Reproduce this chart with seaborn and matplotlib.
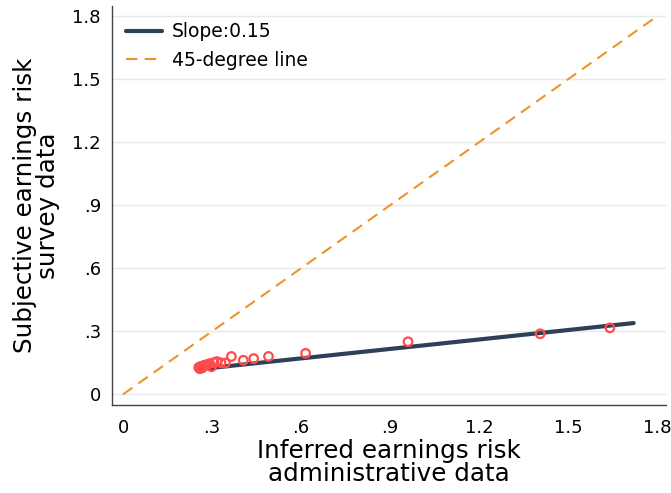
import matplotlib
matplotlib.use("Agg")
import matplotlib.pyplot as plt
import seaborn as sns
import numpy as np
import pandas as pd

# ---- data ----
admin_risk = [0.255, 0.258, 0.262, 0.266, 0.271, 0.276, 0.283, 0.291, 0.298, 0.306,
              0.316, 0.330, 0.345, 0.365, 0.405, 0.440, 0.490, 0.615, 0.960, 1.405, 1.640]
survey_risk = [0.128, 0.122, 0.133, 0.125, 0.136, 0.139, 0.141, 0.146, 0.131, 0.151,
               0.156, 0.150, 0.149, 0.180, 0.162, 0.170, 0.180, 0.195, 0.250, 0.288, 0.316]
fit_x = [0.255, 1.72]
fit_slope = 0.15
fit_intercept = 0.081
diag_x = [0.0, 1.8]
tick_values = [0, 0.3, 0.6, 0.9, 1.2, 1.5, 1.8]
tick_labels = ["0", ".3", ".6", ".9", "1.2", "1.5", "1.8"]
legend_labels = ["Slope:0.15", "45-degree line"]

sns.set_style("white")
plt.rcParams['font.family'] = ['DejaVu Sans']
plt.rcParams['text.color'] = 'black'
plt.rcParams['axes.labelcolor'] = 'black'

fig = plt.figure(figsize=(6.71, 4.93), dpi=100)
ax = fig.add_axes([0.167, 0.178, 0.826, 0.81])

pts = pd.DataFrame({"x": admin_risk, "y": survey_risk})
fit = pd.DataFrame({"x": fit_x, "y": [fit_intercept + fit_slope * v for v in fit_x]})
diag = pd.DataFrame({"x": diag_x, "y": diag_x})

navy = "#2e3f57"
orange = "#f0922b"
red = "#ff4b4b"

sns.lineplot(data=fit, x="x", y="y", ax=ax, color=navy, linewidth=3.0,
             label=legend_labels[0], zorder=3)
sns.lineplot(data=diag, x="x", y="y", ax=ax, color=orange, linewidth=1.5,
             linestyle=(0, (5.5, 3.5)), label=legend_labels[1], zorder=2)
sns.scatterplot(data=pts, x="x", y="y", ax=ax, facecolors="none", edgecolor=red,
                linewidth=1.6, s=38, marker="o", zorder=4, legend=False)

ax.set_xlim(-0.037, 1.83)
ax.set_ylim(-0.052, 1.848)
ax.set_xticks(tick_values)
ax.set_xticklabels(tick_labels)
ax.set_yticks(tick_values)
ax.set_yticklabels(tick_labels)
ax.tick_params(axis="both", which="major", labelsize=13, length=5, width=1,
               direction="out", color="#333333", labelcolor="black", pad=3)
ax.tick_params(axis="x", pad=5)
ax.yaxis.grid(True, color="#e8e8e8", linewidth=1)
ax.xaxis.grid(False)
ax.set_axisbelow(True)
for s in ["top", "right"]:
    ax.spines[s].set_visible(False)
for s in ["left", "bottom"]:
    ax.spines[s].set_color("#444444")
    ax.spines[s].set_linewidth(1)

ax.set_xlabel("Inferred earnings risk\nadministrative data", fontsize=17.7, linespacing=0.95, labelpad=1)
ax.set_ylabel("Subjective earnings risk\nsurvey data", fontsize=17.7, linespacing=0.92, labelpad=9)

leg = ax.legend(loc="upper left", frameon=False, fontsize=13.5, handlelength=1.9,
                handletextpad=0.55, labelspacing=0.5, borderaxespad=0.0,
                bbox_to_anchor=(0.012, 0.978))

fig.savefig("out.png", dpi=100)
